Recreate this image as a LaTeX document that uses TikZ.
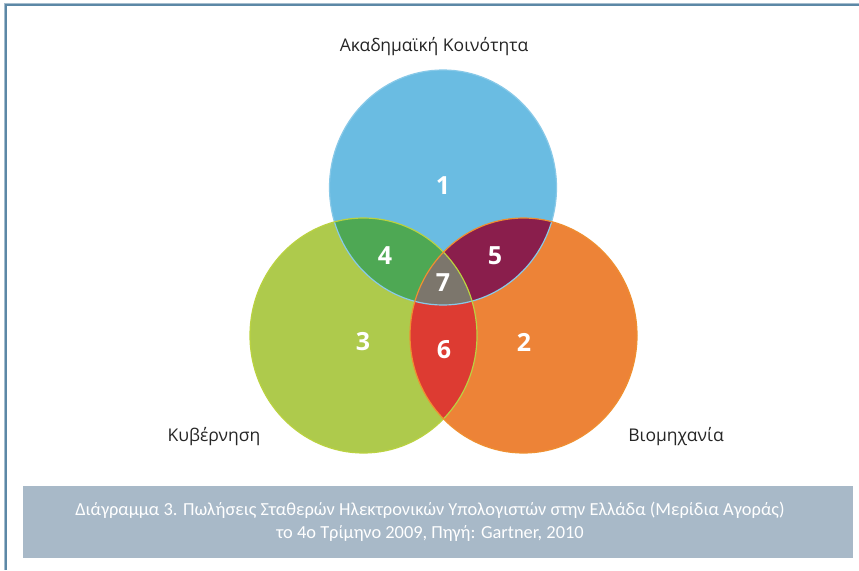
\documentclass[tikz,border=0pt]{standalone}
\usepackage{fontspec}
\setmainfont{Open Sans}
\newfontfamily\capfont{Carlito}
\usetikzlibrary{calc}
\definecolor{venn_blue}{RGB}{106, 188, 226}
\definecolor{venn_green}{RGB}{174, 202, 76}
\definecolor{venn_orange}{RGB}{237, 131, 55}
\definecolor{venn_ag}{RGB}{78, 168, 84}
\definecolor{venn_ao}{RGB}{138, 30, 76}
\definecolor{venn_go}{RGB}{221, 59, 50}
\definecolor{venn_all}{RGB}{124, 118, 108}
\definecolor{frame_line}{RGB}{92, 136, 166}
\definecolor{cap_fill}{RGB}{168, 185, 200}
\tikzstyle{num}=[text=white,font=\fontsize{25}{28}\selectfont\bfseries,inner sep=0pt]
\tikzstyle{setlabel}=[text=black!85,font=\fontsize{17.5}{20}\selectfont,inner sep=0pt]
\tikzstyle{capline}=[text=white,font=\capfont\fontsize{18.4}{21}\selectfont,inner sep=0pt]
\tikzstyle{none}=[]
\newcommand{\vset}{ellipse [x radius=113.5, y radius=117.5]}

\begin{document}
\begin{tikzpicture}[x=1pt, y=-1pt]
        \useasboundingbox (0, 0) rectangle (859, 570);
        \fill [white] (0, 0) rectangle (859, 570);
        % frame
        \draw [frame_line!55!white, line width=1pt] (4, 570) -- (4, 3) -- (859, 3);
        \draw [frame_line, line width=2.5pt] (6, 570) -- (6, 5) -- (859, 5);
        \fill [cap_fill] (23, 486) rectangle (853, 558);
        % set centres
        \coordinate (A) at (443, 187.5);
        \coordinate (G) at (363.5, 335.5);
        \coordinate (O) at (523.5, 335.5);
        \fill [venn_blue] (A) \vset;
        \fill [venn_green] (G) \vset;
        \fill [venn_orange] (O) \vset;
        \begin{scope}
            \clip (A) \vset;
            \fill [venn_ag] (G) \vset;
            \fill [venn_ao] (O) \vset;
        \end{scope}
        \begin{scope}
            \clip (G) \vset;
            \fill [venn_go] (O) \vset;
            \clip (A) \vset;
            \fill [venn_all] (O) \vset;
        \end{scope}
        \draw [venn_blue!80!white, line width=1.2pt] (A) \vset;
        \draw [venn_green!85!yellow, line width=1.2pt] (G) \vset;
        \draw [venn_orange!90!yellow, line width=1.2pt] (O) \vset;
        % numbers
        \node [style=num] (n1) at (443, 186) {1};
        \node [style=num] (n2) at (524, 342) {2};
        \node [style=num] (n3) at (363, 342) {3};
        \node [style=num] (n4) at (385, 256) {4};
        \node [style=num] (n5) at (495, 256) {5};
        \node [style=num] (n6) at (444, 350) {6};
        \node [style=num] (n7) at (443, 283) {7};
        % set names
        \node [style=setlabel] (academia) at (434, 47) {Ακαδημαϊκή Κοινότητα};
        \node [style=setlabel] (government) at (214, 437) {Κυβέρνηση};
        \node [style=setlabel] (industry) at (676, 437) {Βιομηχανία};
        % caption
        \node [style=capline] (cap1) at (430, 510) {Διάγραμμα 3. Πωλήσεις Σταθερών Ηλεκτρονικών Υπολογιστών στην Ελλάδα (Μερίδια Αγοράς)};
        \node [style=capline] (cap2) at (430, 533) {το 4ο Τρίμηνο 2009, Πηγή: Gartner, 2010};
    \end{tikzpicture}
\end{document}
